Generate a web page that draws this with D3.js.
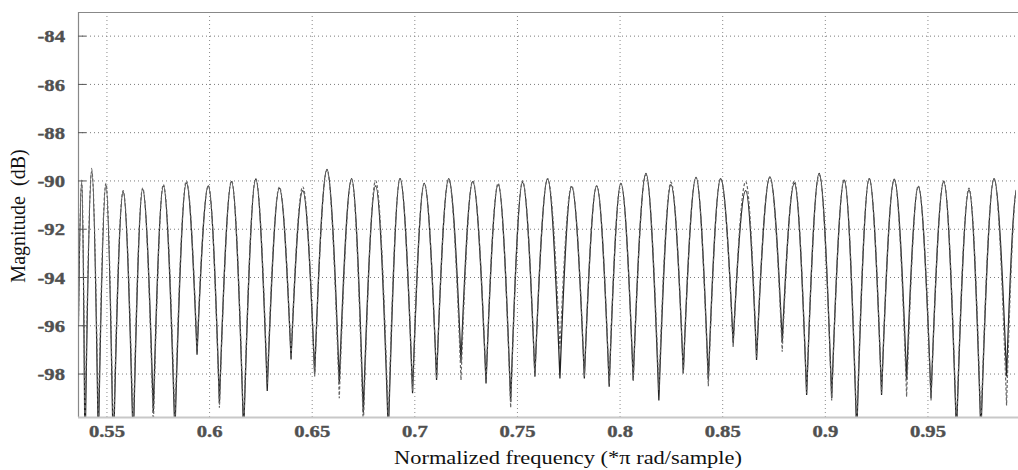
<!DOCTYPE html>
<html><head><meta charset="utf-8">
<script src="https://cdn.jsdelivr.net/npm/d3@7"></script>
<style>body{margin:0;background:#fff}</style>
</head><body>
<svg id="c" width="1018" height="470"></svg>
<script>
// Frequencies of successive extremes (trough, peak, trough, ...), *pi rad/sample
const extremaFreq = [
0.5354,0.5377,0.5393,0.5426,0.5458,0.5495,0.5531,0.5579,0.5628,0.5674,
0.5726,0.5775,0.5831,0.5887,0.5939,0.5994,0.6048,0.6107,0.6166,0.6225,
0.6281,0.6340,0.6397,0.6454,0.6512,0.6572,0.6632,0.6692,0.6749,0.6809,
0.6871,0.6928,0.6989,0.7046,0.7106,0.7165,0.7225,0.7282,0.7347,0.7406,
0.7467,0.7525,0.7585,0.7647,0.7707,0.7764,0.7826,0.7886,0.7947,0.8004,
0.8064,0.8126,0.8189,0.8248,0.8308,0.8370,0.8430,0.8490,0.8551,0.8612,
0.8665,0.8730,0.8790,0.8849,0.8909,0.8970,0.9031,0.9092,0.9153,0.9214,
0.9274,0.9336,0.9396,0.9453,0.9515,0.9577,0.9639,0.9700,0.9758,0.9822,
0.9883,0.9934];
// Solid curve magnitude (dB) at those extremes
const solidDb = [
-101.0,-89.97,-101.5,-89.48,-101.0,-90.17,-101.5,-90.45,-101.0,-90.34,
-99.6,-90.2,-100.5,-90.08,-97.2,-90.2,-99.2,-90.03,-100.5,-89.92,
-98.7,-90.3,-97.4,-90.4,-98.0,-89.52,-98.4,-89.9,-99.6,-90.2,
-100.5,-89.9,-98.8,-90.1,-98.25,-89.9,-97.5,-90.03,-98.39,-90.15,
-99.15,-90.06,-98.1,-89.92,-98.18,-90.24,-98.18,-90.2,-98.53,-90.1,
-98.25,-89.69,-99.1,-90.15,-97.97,-89.85,-98.25,-89.9,-96.73,-90.4,
-97.42,-89.83,-96.66,-90.1,-98.87,-89.69,-99.0,-89.97,-100.5,-89.9,
-98.87,-89.92,-98.25,-90.24,-99.0,-90.03,-100.5,-90.38,-100.5,-89.9,
-98.1,-90.3];
// Dashed curve magnitude (dB) at those extremes
const dashedDb = [
-101.0,-90.1,-100.5,-89.6,-100.2,-90.1,-101.0,-90.4,-100.5,-90.3,
-100.2,-90.15,-100.0,-90.0,-97.0,-90.2,-99.4,-90.0,-100.3,-89.9,
-98.4,-90.25,-97.3,-90.24,-98.1,-89.55,-99.0,-89.95,-100.2,-89.99,
-100.0,-89.9,-98.7,-90.1,-98.2,-89.95,-98.25,-90.0,-98.3,-90.1,
-99.4,-90.0,-98.1,-89.9,-97.0,-90.2,-98.1,-90.2,-98.4,-90.1,
-98.3,-89.75,-98.66,-90.05,-98.0,-89.85,-98.5,-89.9,-96.9,-90.03,
-97.3,-89.85,-97.08,-90.0,-98.8,-89.75,-99.1,-89.95,-100.2,-89.9,
-98.8,-89.95,-98.94,-90.2,-99.1,-90.0,-100.3,-90.3,-100.2,-89.9,
-99.3,-90.3];
const xTicks = [0.55,0.6,0.65,0.7,0.75,0.8,0.85,0.9,0.95];
const xTickLabels = ["0.55","0.6","0.65","0.7","0.75","0.8","0.85","0.9","0.95"];
const yTicks = [-84,-86,-88,-90,-92,-94,-96,-98];
const xLabel = "Normalized frequency (*\u03C0 rad/sample)";
const yLabel = "Magnitude  (dB)";

const L = 78, R = 1016, T = 12, B = 417;
const svg = d3.select("#c");
const x = d3.scaleLinear().domain([0.5359, 0.9929]).range([L, R]);
const y = d3.scaleLinear().domain([-99.78, -83.0]).range([B, T]);

// grid
const grid = svg.append("g");
grid.selectAll("line.h").data(yTicks).join("line")
  .attr("x1", L).attr("x2", R).attr("y1", d => y(d)).attr("y2", d => y(d))
  .attr("stroke", "#7a7a7a").attr("stroke-width", 1).attr("stroke-dasharray", "1,3");
grid.selectAll("line.v").data(xTicks).join("line")
  .attr("y1", T).attr("y2", B).attr("x1", d => x(d)).attr("x2", d => x(d))
  .attr("stroke", "#8a8a8a").attr("stroke-width", 1).attr("stroke-dasharray", "1,3");

// curve with rounded peaks and sharp troughs
function peakTrough(context) {
  let pts = [];
  return {
    areaStart(){}, areaEnd(){},
    lineStart(){ pts = []; },
    point(px, py){ pts.push([px, py]); },
    lineEnd(){
      if (!pts.length) return;
      context.moveTo(pts[0][0], pts[0][1]);
      const a = 0.33, b = 0.33, s = 1.6;
      for (let i = 1; i < pts.length; i++) {
        const [x0, y0] = pts[i-1], [x1, y1] = pts[i];
        const dx = x1 - x0, dy = y1 - y0;
        if (y0 < y1) context.bezierCurveTo(x0 + a*dx, y0, x1 - b*dx, y1 - s*b*dy, x1, y1);
        else context.bezierCurveTo(x0 + b*dx, y0 + s*b*dy, x1 - a*dx, y1, x1, y1);
      }
    }
  };
}

svg.append("defs").append("clipPath").attr("id", "clip")
  .append("rect").attr("x", L).attr("y", T).attr("width", R - L).attr("height", B - T);

const line = d3.line().x(d => x(d[0])).y(d => y(d[1])).curve(peakTrough);
const plot = svg.append("g").attr("clip-path", "url(#clip)");
plot.append("path").datum(extremaFreq.map((f, i) => [f, solidDb[i]]))
  .attr("d", line).attr("fill", "none").attr("stroke", "#222").attr("stroke-width", 1.25);
plot.append("path").datum(extremaFreq.map((f, i) => [f, dashedDb[i]]))
  .attr("d", line).attr("fill", "none").attr("stroke", "#666").attr("stroke-width", 1.2)
  .attr("stroke-dasharray", "3,2");

// frame
svg.append("line").attr("x1", L).attr("x2", 1018).attr("y1", T + 0.5).attr("y2", T + 0.5)
  .attr("stroke", "#888").attr("stroke-width", 1);
svg.append("line").attr("x1", L + 0.5).attr("x2", L + 0.5).attr("y1", T).attr("y2", B)
  .attr("stroke", "#888").attr("stroke-width", 1.2);
svg.append("line").attr("x1", L).attr("x2", 1018).attr("y1", B + 0.5).attr("y2", B + 0.5)
  .attr("stroke", "#c8c8c8").attr("stroke-width", 2);

// tick marks
svg.append("g").selectAll("line").data(yTicks).join("line")
  .attr("x1", L).attr("x2", L + 8).attr("y1", d => y(d)).attr("y2", d => y(d))
  .attr("stroke", "#555").attr("stroke-width", 1);

// tick labels
const tickFont = "'Liberation Serif','Times New Roman',serif";
svg.append("g").selectAll("text").data(yTicks).join("text")
  .attr("transform", d => `translate(65,${y(d)}) scale(1.18,1)`)
  .attr("dy", "0.35em").attr("text-anchor", "end")
  .attr("font-family", tickFont).attr("font-weight", "bold").attr("font-size", 17.5)
  .attr("fill", "#505050").attr("stroke", "#505050").attr("stroke-width", 0.4)
  .text(d => String(d));
svg.append("g").selectAll("text").data(xTicks).join("text")
  .attr("transform", d => `translate(${x(d)},437) scale(1.18,1)`)
  .attr("text-anchor", "middle")
  .attr("font-family", tickFont).attr("font-weight", "bold").attr("font-size", 17.5)
  .attr("fill", "#505050").attr("stroke", "#505050").attr("stroke-width", 0.4)
  .text((d, i) => xTickLabels[i]);

// axis labels
svg.append("text").attr("transform", "translate(568,464) scale(1.18,1)")
  .attr("text-anchor", "middle").attr("font-family", tickFont).attr("font-size", 19)
  .attr("fill", "#111").text(xLabel);
svg.append("text").attr("transform", "translate(25,216) rotate(-90)")
  .attr("text-anchor", "middle").attr("font-family", tickFont).attr("font-size", 20)
  .attr("fill", "#111").style("white-space", "pre").text(yLabel);
</script>
</body></html>
